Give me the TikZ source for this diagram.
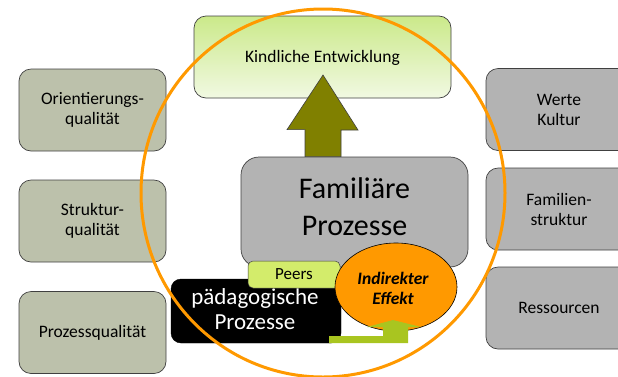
\documentclass[tikz,border=0pt]{standalone}
\usepackage{fontspec}
\setmainfont{Carlito}
\usetikzlibrary{calc,shapes.geometric}
\definecolor{leftfill}{HTML}{BCC1AB}
\definecolor{grayfill}{HTML}{B3B3B3}
\definecolor{olivec}{HTML}{808000}
\definecolor{kindtop}{HTML}{CBE98A}
\definecolor{kindbot}{HTML}{F1F9E2}
\definecolor{peersc}{HTML}{D3EC6B}
\definecolor{greenarr}{HTML}{A9C520}
\definecolor{orangec}{HTML}{FF9900}
\definecolor{edgec}{HTML}{404040}
\tikzset{
  box/.style={draw=edgec, line width=0.7pt, rounded corners=12pt, align=center,
    font=\fontsize{17.5}{20}\selectfont, inner sep=0pt},
  leftbox/.style={box, fill=leftfill, minimum width=147pt, minimum height=82pt},
  rightbox/.style={box, fill=grayfill, minimum width=146pt, minimum height=82pt},
}
\begin{document}
\begin{tikzpicture}[x=1pt,y=-1pt]
\useasboundingbox (0,0) rectangle (618,376);
\clip (0,0) rectangle (618,376);
% left boxes
\node[leftbox] (orient) at (92.5,110) {Orientierungs-\\qualität};
\node[leftbox] (struk) at (92.5,221) {Struktur-\\qualität};
\node[leftbox] (prozq) at (92.5,332.5) {Prozessqualität};
% right boxes
\node[rightbox] (werte) at (559,109.5) {Werte\\Kultur};
\node[rightbox] (famstr) at (559,209) {Familien-\\struktur};
\node[rightbox] (ress) at (559,308) {Ressourcen};
% top box
\node[box, top color=kindtop, bottom color=kindbot, minimum width=257pt, minimum height=82pt,
  text depth=0pt] (kind) at (322.5,57) {};
\node[font=\fontsize{17.5}{20}\selectfont] (kindt) at (322.5,58) {Kindliche Entwicklung};
% familiaere Prozesse
\node[box, fill=grayfill, rounded corners=18pt, minimum width=227pt, minimum height=110pt,
  font=\fontsize{30}{37}\selectfont] (fam) at (354.5,212) {};
\node[font=\fontsize{30}{37}\selectfont, align=center] (famt) at (354.5,207) {Familiäre\\Prozesse};
% olive block arrow
\coordinate (tip) at (323,75);
\coordinate (base) at (fam.north -| tip);
\fill[olivec, draw=edgec, line width=0.6pt]
  (base) ++(-18,0) -- ++(0,-27) -- ++(-18,0) -- (tip) -- ($(tip)+(35,55)$) -- ++(-17,0)
  -- ($(base)+(18,0)$) -- cycle;
% paedagogische Prozesse
\node[draw=black, fill=black, rounded corners=10pt, minimum width=170pt, minimum height=64pt,
  inner sep=0pt] (paed) at (256,311) {};
\node[text=white, font=\fontsize{23}{25}\selectfont, align=center] (paedt) at (255,309) {pädagogische\\Prozesse};
% Peers
\node[draw=edgec, line width=0.5pt, fill=peersc, rounded corners=5pt, minimum width=92pt,
  minimum height=27pt, inner sep=0pt, font=\fontsize{17}{20}\selectfont] (peers) at (294,274.5) {Peers};
% Indirekter Effekt
\node[ellipse, draw=black, line width=0.6pt, fill=orangec, minimum width=122pt, minimum height=88pt,
  inner sep=0pt] (ind) at (396,287) {};
\node[font=\fontsize{17.5}{20}\selectfont\bfseries\itshape, align=center] (indt) at (393,288) {Indirekter\\Effekt};
% bent green arrow
\coordinate (gstart) at (329,336);
\coordinate (gtip) at (393,320);
\fill[greenarr]
  (gstart) -- (383,336) -- (383,327) -- (367,327) -- (gtip) -- (421,327) -- (408,327)
  -- (408,343) -- (329,343) -- cycle;
% big orange ellipse
\draw[orangec, line width=3pt] (323,193) ellipse [x radius=182, y radius=184];
\end{tikzpicture}
\end{document}
